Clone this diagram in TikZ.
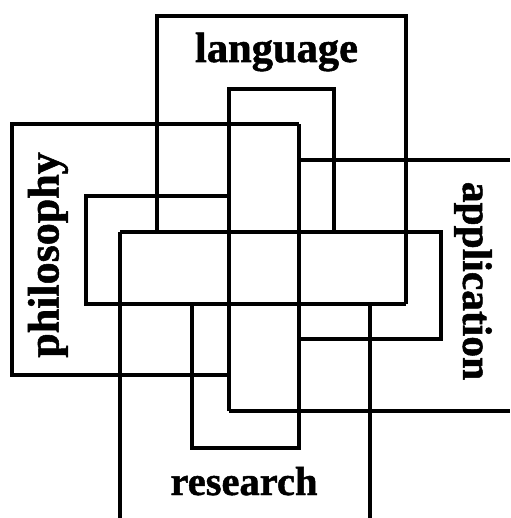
\documentclass[tikz,border=0pt]{standalone}
\usepackage{fontspec}
\setmainfont{Liberation Serif}
\newfontfamily\heavyserif[FakeBold=1.2]{Liberation Serif Bold}
\begin{document}
\begin{tikzpicture}[x=1pt,y=-1pt,
  bar/.style={draw=black, line width=3.8pt},
  lbl/.style={inner sep=0pt, text=black}]
\useasboundingbox (0,0) rectangle (510,518);
% language (top, opens downward)
\draw[bar] (157,232) -- (157,16) -- (406,16) -- (406,304);
\draw[bar] (229,411) -- (229,89) -- (334,89) -- (334,232);
% philosophy (left, opens rightward)
\draw[bar] (299,124) -- (12,124) -- (12,375) -- (229,375);
\draw[bar, line width=4.6pt] (12,124) -- (12,375);
\draw[bar] (229,196) -- (86,196) -- (86,304) -- (406,304);
% application (right, opens leftward)
\draw[bar] (299,160) -- (510,160);
\draw[bar] (229,411) -- (510,411);
\draw[bar] (120,232) -- (441,232) -- (441,339) -- (299,339);
% research (bottom, opens upward)
\draw[bar] (120,518) -- (120,232);
\draw[bar] (370,518) -- (370,304);
\draw[bar] (192,304) -- (192,448) -- (299,448) -- (299,124);
% labels
\node[lbl, anchor=base, font=\heavyserif\fontsize{42.5}{42.5}\selectfont] (lang) at (276.5,62) {language};
\node[lbl, anchor=base, font=\heavyserif\fontsize{40.5}{40.5}\selectfont] (res) at (244,495) {research};
\node[lbl, rotate=90, font=\heavyserif\fontsize{44}{44}\selectfont] (phil) at (48,255) {philosophy};
\node[lbl, rotate=-90, font=\heavyserif\fontsize{41.5}{41.5}\selectfont] (app) at (473,281) {application};
\end{tikzpicture}
\end{document}
